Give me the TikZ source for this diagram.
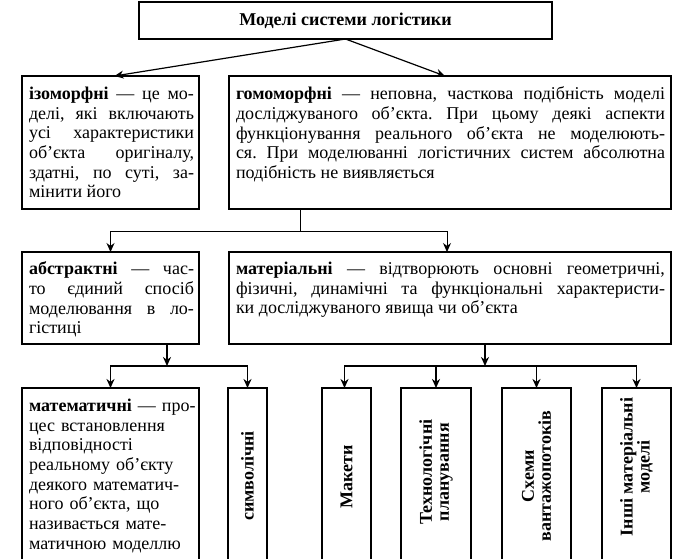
\documentclass[tikz,border=0pt]{standalone}
\usepackage{fontspec}
\setmainfont{Liberation Serif}
\usetikzlibrary{arrows.meta}
\frenchspacing

\begin{document}
\begin{tikzpicture}
[x=1pt,y=-1pt,
 every node/.style={inner sep=0mm,outer sep=0mm,font=\fontsize{18}{19.7}\selectfont},
 box/.style={rectangle,draw=black,line width=1.4pt,anchor=north west},
 txt/.style={anchor=north west,align=justify},
 vtxt/.style={rotate=90,align=center,font=\fontsize{18}{17}\selectfont\bfseries},
 arr/.style={-{Stealth[length=9pt,width=8pt]}},
 thin/.style={line width=1pt},
 fat/.style={line width=1.6pt}]

\clip (0,0) rectangle (681,559);

% title
\node[box,minimum width=413,minimum height=37,font=\fontsize{18}{19.7}\selectfont\bfseries] (Mod) at (139,2) {Моделі системи логістики};

% izomorfni / gomomorfni
\node[box,minimum width=177,minimum height=133] (Izo)  at (22,76)  {};
\node[box,minimum width=442,minimum height=133] (Gomo) at (229,76) {};

\node[txt,text width=165] (IzoT)  at ([shift={(7,11)}]Izo.north west)
  {\textbf{ізоморфні} — це мо-\linebreak делі, які включають\linebreak усі характеристики\linebreak об’єкта оригіналу,\linebreak здатні, по суті, за-\linebreak мінити його};
\node[txt,text width=429] (GomoT) at ([shift={(7,11)}]Gomo.north west)
  {\textbf{гомоморфні} — неповна, часткова подібність моделі\linebreak досліджуваного об’єкта. При цьому деякі аспекти\linebreak функціонування реального об’єкта не моделюють-\linebreak ся. При моделюванні логістичних систем абсолютна\linebreak подібність не виявляється};

% abstraktni / materialni
\node[box,minimum width=177,minimum height=92] (Abs) at (22,252)  {};
\node[box,minimum width=442,minimum height=92] (Mat) at (229,252) {};

\node[txt,text width=165] (AbsT) at ([shift={(7,10)}]Abs.north west)
  {\textbf{абстрактні} — час-\linebreak то єдиний спосіб\linebreak моделювання в ло-\linebreak гістиці};
\node[txt,text width=429] (MatT) at ([shift={(7,10)}]Mat.north west)
  {\textbf{матеріальні} — відтворюють основні геометричні,\linebreak фізичні, динамічні та функціональні характеристи-\linebreak ки досліджуваного явища чи об’єкта};

% bottom row
\node[box,minimum width=177,minimum height=220] (Matem) at (22,388)  {};
\node[box,minimum width=39,minimum height=220]  (Symv)  at (228,388) {};
\node[box,minimum width=49,minimum height=220]  (Mak)   at (322,388) {};
\node[box,minimum width=70,minimum height=220]  (Tech)  at (401,388) {};
\node[box,minimum width=69,minimum height=220]  (Skh)   at (502,388) {};
\node[box,minimum width=69,minimum height=220]  (Insh)  at (602,388) {};

\node[txt,align=left,text width=168] (MatemT) at ([shift={(7,11)}]Matem.north west)
  {\textbf{математичні} — про-\\ цес встановлення\\ відповідності\\ реальному об’єкту\\ деякого математич-\\ ного об’єкта, що\\ називається мате-\\ матичною моделлю};

\node[vtxt] (SymvT) at (247.5,476) {символічні};
\node[vtxt] (MakT)  at (346.5,477) {Макети};
\node[vtxt] (TechT) at (436,472)   {Технологічні\\ планування};
\node[vtxt] (SkhT)  at (536.5,476) {Схеми\\ вантажопотоків};
\node[vtxt] (InshT) at (636.5,467) {Інші матеріальні\\ моделі};

% links
\path[arr,line width=1.2pt] (Mod.south) edge ([xshift=4]Izo.north);
\path[arr,line width=1.2pt] (Mod.south) edge ([xshift=-5]Gomo.north);

\coordinate (SplitA) at (300,232);
\draw[thin]     (Gomo.south -| SplitA) -- (SplitA);
\draw[thin,arr] (SplitA) -| (Abs.north);
\draw[thin,arr] (SplitA) -| ([xshift=-3]Mat.north);

\coordinate (SplitB) at (167,366);
\draw[fat,arr] (Abs.south -| SplitB) -- (SplitB);
\draw[fat,arr] (SplitB) -| (Matem.north);
\draw[fat,arr] (SplitB) -| (Symv.north);

\coordinate (SplitC) at (485,366);
\draw[fat,arr] (Mat.south -| SplitC) -- (SplitC);
\draw[fat,arr] (SplitC) -| ([xshift=-2]Mak.north);
\draw[fat,arr] (SplitC) -| (Tech.north);
\draw[fat,arr] (SplitC) -| (Skh.north);
\draw[fat,arr] (SplitC) -| (Insh.north);

\end{tikzpicture}
\end{document}
